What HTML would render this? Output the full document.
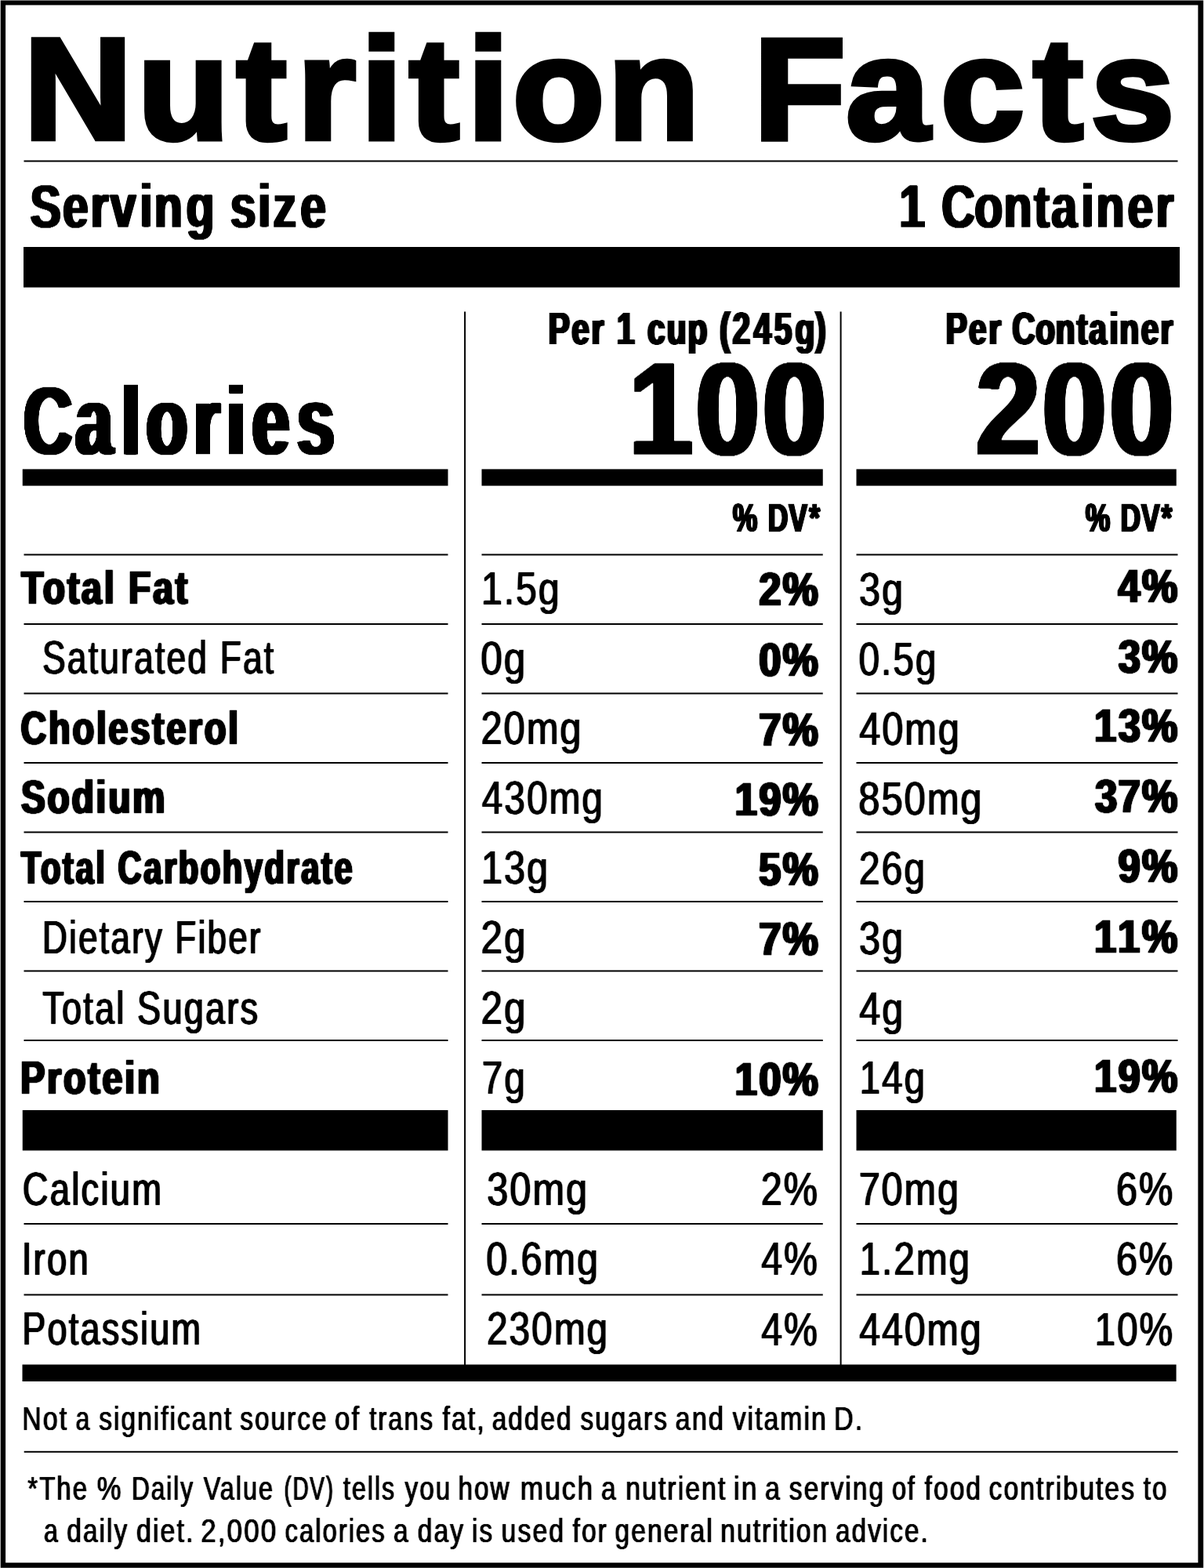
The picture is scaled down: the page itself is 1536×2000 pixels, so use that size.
<!DOCTYPE html>
<html lang="en"><head><meta charset="utf-8"><title>Nutrition Facts</title>
<style>html,body{margin:0;padding:0;background:#fff}svg{display:block}text{font-family:'Liberation Sans', Arial, Helvetica, sans-serif;fill:#000;white-space:pre}</style></head>
<body>
<svg xmlns="http://www.w3.org/2000/svg" width="1536" height="2000" viewBox="0 0 1536 2000">
<defs><filter id="h180e40" x="-30%" y="-15%" width="160%" height="130%"><feConvolveMatrix order="5 1" kernelMatrix="0.694 1 1 1 0.694" divisor="1" edgeMode="none" preserveAlpha="false"/><feConvolveMatrix order="1 3" kernelMatrix="0.296 1 0.296" divisor="1" bias="-0.592" edgeMode="none" preserveAlpha="false"/></filter><filter id="h155" x="-30%" y="-15%" width="160%" height="130%"><feConvolveMatrix order="5 1" kernelMatrix="0.428 1 1 1 0.428" divisor="1" edgeMode="none" preserveAlpha="false"/></filter><filter id="h355e90" x="-30%" y="-15%" width="160%" height="130%"><feConvolveMatrix order="9 1" kernelMatrix="0.428 1 1 1 1 1 1 1 0.428" divisor="1" edgeMode="none" preserveAlpha="false"/><feConvolveMatrix order="1 3" kernelMatrix="0.829 1 0.829" divisor="1" bias="-1.658" edgeMode="none" preserveAlpha="false"/></filter><filter id="h365e50" x="-30%" y="-15%" width="160%" height="130%"><feConvolveMatrix order="9 1" kernelMatrix="0.525 1 1 1 1 1 1 1 0.525" divisor="1" edgeMode="none" preserveAlpha="false"/><feConvolveMatrix order="1 3" kernelMatrix="0.382 1 0.382" divisor="1" bias="-0.764" edgeMode="none" preserveAlpha="false"/></filter><filter id="h355e50" x="-30%" y="-15%" width="160%" height="130%"><feConvolveMatrix order="9 1" kernelMatrix="0.428 1 1 1 1 1 1 1 0.428" divisor="1" edgeMode="none" preserveAlpha="false"/><feConvolveMatrix order="1 3" kernelMatrix="0.382 1 0.382" divisor="1" bias="-0.764" edgeMode="none" preserveAlpha="false"/></filter><filter id="h110v25" x="-30%" y="-15%" width="160%" height="130%"><feConvolveMatrix order="5 1" kernelMatrix="0.068 1 1 1 0.068" divisor="1" edgeMode="none" preserveAlpha="false"/><feConvolveMatrix order="1 3" kernelMatrix="0.177 1 0.177" divisor="1" edgeMode="none" preserveAlpha="false"/></filter><filter id="h135v30" x="-30%" y="-15%" width="160%" height="130%"><feConvolveMatrix order="5 1" kernelMatrix="0.255 1 1 1 0.255" divisor="1" edgeMode="none" preserveAlpha="false"/><feConvolveMatrix order="1 3" kernelMatrix="0.215 1 0.215" divisor="1" edgeMode="none" preserveAlpha="false"/></filter><filter id="h130v30" x="-30%" y="-15%" width="160%" height="130%"><feConvolveMatrix order="5 1" kernelMatrix="0.215 1 1 1 0.215" divisor="1" edgeMode="none" preserveAlpha="false"/><feConvolveMatrix order="1 3" kernelMatrix="0.215 1 0.215" divisor="1" edgeMode="none" preserveAlpha="false"/></filter><filter id="h120v30" x="-30%" y="-15%" width="160%" height="130%"><feConvolveMatrix order="5 1" kernelMatrix="0.14 1 1 1 0.14" divisor="1" edgeMode="none" preserveAlpha="false"/><feConvolveMatrix order="1 3" kernelMatrix="0.215 1 0.215" divisor="1" edgeMode="none" preserveAlpha="false"/></filter><filter id="h65v15" x="-30%" y="-15%" width="160%" height="130%"><feConvolveMatrix order="3 1" kernelMatrix="0.525 1 0.525" divisor="1" edgeMode="none" preserveAlpha="false"/><feConvolveMatrix order="1 3" kernelMatrix="0.104 1 0.104" divisor="1" edgeMode="none" preserveAlpha="false"/></filter><filter id="h70v15" x="-30%" y="-15%" width="160%" height="130%"><feConvolveMatrix order="3 1" kernelMatrix="0.578 1 0.578" divisor="1" edgeMode="none" preserveAlpha="false"/><feConvolveMatrix order="1 3" kernelMatrix="0.104 1 0.104" divisor="1" edgeMode="none" preserveAlpha="false"/></filter><filter id="h60v15" x="-30%" y="-15%" width="160%" height="130%"><feConvolveMatrix order="3 1" kernelMatrix="0.475 1 0.475" divisor="1" edgeMode="none" preserveAlpha="false"/><feConvolveMatrix order="1 3" kernelMatrix="0.104 1 0.104" divisor="1" edgeMode="none" preserveAlpha="false"/></filter><filter id="h130v40" x="-30%" y="-15%" width="160%" height="130%"><feConvolveMatrix order="5 1" kernelMatrix="0.215 1 1 1 0.215" divisor="1" edgeMode="none" preserveAlpha="false"/><feConvolveMatrix order="1 3" kernelMatrix="0.296 1 0.296" divisor="1" edgeMode="none" preserveAlpha="false"/></filter><filter id="h50v10" x="-30%" y="-15%" width="160%" height="130%"><feConvolveMatrix order="3 1" kernelMatrix="0.382 1 0.382" divisor="1" edgeMode="none" preserveAlpha="false"/><feConvolveMatrix order="1 3" kernelMatrix="0.068 1 0.068" divisor="1" edgeMode="none" preserveAlpha="false"/></filter></defs>
<path fill="#000" fill-rule="evenodd" d="M0.7 0.5H1535.2V1999.7H0.7Z M7.1 6.5V1993.3H1528.4V6.5Z"/>
<rect x="30.5" y="204.5" width="1472" height="2"/>
<rect x="30" y="315" width="1475" height="51.6"/>
<rect x="592.1" y="397.5" width="2" height="1343.5"/>
<rect x="1071.6" y="397.5" width="2" height="1343.5"/>
<rect x="28.75" y="598.4" width="542.75" height="21.2"/>
<rect x="614.5" y="598.4" width="435.25" height="21.2"/>
<rect x="1092.5" y="598.4" width="408.25" height="21.2"/>
<rect x="30.5" y="706.5" width="541" height="2"/>
<rect x="614.5" y="706.5" width="435.25" height="2"/>
<rect x="1092.5" y="706.5" width="410" height="2"/>
<rect x="30.5" y="795" width="541" height="2"/>
<rect x="614.5" y="795" width="435.25" height="2"/>
<rect x="1092.5" y="795" width="410" height="2"/>
<rect x="30.5" y="883.5" width="541" height="2"/>
<rect x="614.5" y="883.5" width="435.25" height="2"/>
<rect x="1092.5" y="883.5" width="410" height="2"/>
<rect x="30.5" y="972" width="541" height="2"/>
<rect x="614.5" y="972" width="435.25" height="2"/>
<rect x="1092.5" y="972" width="410" height="2"/>
<rect x="30.5" y="1060.5" width="541" height="2"/>
<rect x="614.5" y="1060.5" width="435.25" height="2"/>
<rect x="1092.5" y="1060.5" width="410" height="2"/>
<rect x="30.5" y="1149" width="541" height="2"/>
<rect x="614.5" y="1149" width="435.25" height="2"/>
<rect x="1092.5" y="1149" width="410" height="2"/>
<rect x="30.5" y="1237.5" width="541" height="2"/>
<rect x="614.5" y="1237.5" width="435.25" height="2"/>
<rect x="1092.5" y="1237.5" width="410" height="2"/>
<rect x="30.5" y="1326" width="541" height="2"/>
<rect x="614.5" y="1326" width="435.25" height="2"/>
<rect x="1092.5" y="1326" width="410" height="2"/>
<rect x="30.5" y="1560" width="541" height="2"/>
<rect x="614.5" y="1560" width="435.25" height="2"/>
<rect x="1092.5" y="1560" width="410" height="2"/>
<rect x="30.5" y="1650.5" width="541" height="2"/>
<rect x="614.5" y="1650.5" width="435.25" height="2"/>
<rect x="1092.5" y="1650.5" width="410" height="2"/>
<rect x="28.75" y="1416" width="542.75" height="51.5"/>
<rect x="614.5" y="1416" width="435.25" height="51.5"/>
<rect x="1092.5" y="1416" width="408.25" height="51.5"/>
<rect x="28.5" y="1740.5" width="1472.1" height="21.5"/>
<rect x="30.7" y="1850.8" width="1472" height="2"/>
<text transform="translate(0 176.82) scale(1.0418 1)" font-size="184.14" font-weight="bold" stroke="#000" stroke-width="6.35" stroke-linejoin="miter" x="28.95 168.4 289.68 364.15 441.83 501.09 572.25 627.67 744.11 833.5 922.89 1035.87 1151.84 1265.11 1335.78">Nutrition Facts</text>
<text transform="translate(0 289.6) scale(0.76 1)" font-size="77.66" font-weight="bold" filter="url(#h180e40)" x="50.78 105.42 151.96 185.35 234.51 258.99 312.36 349.41 386.47 433.06 458.46 504.23">Serving size</text>
<text transform="translate(0 289.6) scale(0.76 1)" font-size="77.66" font-weight="bold" filter="url(#h180e40)" x="1509.44 1544.96 1580.48 1635.82 1684.78 1735.76 1764.83 1814.9 1840.11 1892.72 1940.12">1 Container</text>
<text transform="translate(0 438.5) scale(0.7 1)" font-size="58.1" font-weight="bold" filter="url(#h155)" x="999.69 1041.64 1077.93 1101.08 1124.24 1152.07 1179.89 1215.5 1253.6 1282.55 1311.51 1335.06 1373.63 1411.12 1449.23 1486.01">Per 1 cup (245g)</text>
<text transform="translate(0 438.5) scale(0.7 1)" font-size="58.1" font-weight="bold" filter="url(#h155)" x="1723.8 1765.85 1801.75 1823.27 1844.79 1887.44 1924.06 1962.62 1984.58 2022.3 2040.45 2079.67 2115.18">Per Container</text>
<text transform="translate(0 579.9) scale(0.6918 1)" font-size="123.79" font-weight="bold" filter="url(#h355e90)" x="43.76 139.21 224.42 269.96 357.59 418.04 464.93 547.8">Calories</text>
<text transform="translate(0 580) scale(0.8565 1)" font-size="169.69" font-weight="bold" filter="url(#h365e50)" x="937.36 1036.42 1136.09">100</text>
<text transform="translate(0 580) scale(0.8653 1)" font-size="169.69" font-weight="bold" filter="url(#h355e50)" x="1439.24 1536.85 1635.81">200</text>
<text transform="translate(0 677.85) scale(0.7 1)" font-size="50.73" font-weight="bold" filter="url(#h110v25)" x="1335.51 1367.64 1399.78 1437.65 1474.5">% DV*</text>
<text transform="translate(0 677.85) scale(0.7 1)" font-size="50.73" font-weight="bold" filter="url(#h110v25)" x="1978.36 2010.18 2042 2079.94 2116.36">% DV*</text>
<text transform="translate(27.13 770.3) scale(0.7834 1)" font-size="59.1" font-weight="bold" letter-spacing="3.6" filter="url(#h135v30)">Total Fat</text>
<text transform="translate(26.43 948.95) scale(0.7682 1)" font-size="59.1" font-weight="bold" letter-spacing="3.6" filter="url(#h130v30)">Cholesterol</text>
<text transform="translate(26.88 1037.2) scale(0.782 1)" font-size="59.1" font-weight="bold" letter-spacing="3.6" filter="url(#h135v30)">Sodium</text>
<text transform="translate(27 1127.2) scale(0.7063 1)" font-size="59.1" font-weight="bold" letter-spacing="3.6" filter="url(#h120v30)">Total Carbohydrate</text>
<text transform="translate(26.24 1394.7) scale(0.7873 1)" font-size="59.1" font-weight="bold" letter-spacing="3.6" filter="url(#h135v30)">Protein</text>
<text transform="translate(54.04 858.85) scale(0.7465 1)" font-size="59.52" letter-spacing="2.9" filter="url(#h65v15)">Saturated Fat</text>
<text transform="translate(54.05 1216.1) scale(0.742 1)" font-size="59.52" letter-spacing="2.9" filter="url(#h65v15)">Dietary Fiber</text>
<text transform="translate(54.15 1306.1) scale(0.7578 1)" font-size="59.52" letter-spacing="2.9" filter="url(#h70v15)">Total Sugars</text>
<text transform="translate(28.85 1537.35) scale(0.7622 1)" font-size="59.52" letter-spacing="2.9" filter="url(#h70v15)">Calcium</text>
<text transform="translate(27.73 1626.1) scale(0.7641 1)" font-size="59.52" letter-spacing="2.9" filter="url(#h70v15)">Iron</text>
<text transform="translate(28.25 1715.35) scale(0.7567 1)" font-size="59.52" letter-spacing="2.9" filter="url(#h70v15)">Potassium</text>
<text transform="translate(613.95 770.85) scale(0.8047 1)" font-size="59.88" letter-spacing="2.4" filter="url(#h60v15)">1.5g</text>
<text transform="translate(613.18 860.35) scale(0.8292 1)" font-size="59.88" letter-spacing="2.4" filter="url(#h65v15)">0g</text>
<text transform="translate(613.43 949.1) scale(0.8161 1)" font-size="59.88" letter-spacing="2.4" filter="url(#h65v15)">20mg</text>
<text transform="translate(614.76 1037.85) scale(0.8 1)" font-size="59.88" letter-spacing="2.4" filter="url(#h60v15)">430mg</text>
<text transform="translate(613.91 1127.35) scale(0.814 1)" font-size="59.88" letter-spacing="2.4" filter="url(#h65v15)">13g</text>
<text transform="translate(613.41 1216.35) scale(0.8257 1)" font-size="59.88" letter-spacing="2.4" filter="url(#h65v15)">2g</text>
<text transform="translate(613.41 1306.35) scale(0.8257 1)" font-size="59.88" letter-spacing="2.4" filter="url(#h65v15)">2g</text>
<text transform="translate(614.66 1394.85) scale(0.8 1)" font-size="59.88" letter-spacing="2.4" filter="url(#h60v15)">7g</text>
<text transform="translate(621.34 1537.35) scale(0.8134 1)" font-size="59.88" letter-spacing="2.4" filter="url(#h65v15)">30mg</text>
<text transform="translate(620.21 1626.1) scale(0.8105 1)" font-size="59.88" letter-spacing="2.4" filter="url(#h65v15)">0.6mg</text>
<text transform="translate(620.97 1715.35) scale(0.8 1)" font-size="59.88" letter-spacing="2.4" filter="url(#h60v15)">230mg</text>
<text transform="translate(0 772.1) scale(0.85 1)" font-size="59.88" font-weight="bold" filter="url(#h130v40)" x="1139.15 1174.79">2%</text>
<text transform="translate(0 861.6) scale(0.85 1)" font-size="59.88" font-weight="bold" filter="url(#h130v40)" x="1139.05 1174.79">0%</text>
<text transform="translate(0 951.35) scale(0.85 1)" font-size="59.88" font-weight="bold" filter="url(#h130v40)" x="1139.03 1174.79">7%</text>
<text transform="translate(0 1039.9) scale(0.85 1)" font-size="59.88" font-weight="bold" filter="url(#h130v40)" x="1103.09 1139.06 1174.79">19%</text>
<text transform="translate(0 1129.1) scale(0.85 1)" font-size="59.88" font-weight="bold" filter="url(#h130v40)" x="1138.86 1174.79">5%</text>
<text transform="translate(0 1218.35) scale(0.85 1)" font-size="59.88" font-weight="bold" filter="url(#h130v40)" x="1139.03 1174.79">7%</text>
<text transform="translate(0 1396.6) scale(0.85 1)" font-size="59.88" font-weight="bold" filter="url(#h130v40)" x="1103.09 1139.05 1174.79">10%</text>
<text transform="translate(970.69 1537.35) scale(0.812 1)" font-size="59.88" letter-spacing="2.4" filter="url(#h65v15)">2%</text>
<text transform="translate(971.25 1625.85) scale(0.8056 1)" font-size="59.88" letter-spacing="2.4" filter="url(#h60v15)">4%</text>
<text transform="translate(971.25 1715.85) scale(0.8056 1)" font-size="59.88" letter-spacing="2.4" filter="url(#h60v15)">4%</text>
<text transform="translate(1096.1 771.85) scale(0.8115 1)" font-size="59.88" letter-spacing="2.4" filter="url(#h65v15)">3g</text>
<text transform="translate(1095.48 860.6) scale(0.8003 1)" font-size="59.88" letter-spacing="2.4" filter="url(#h60v15)">0.5g</text>
<text transform="translate(1096.25 949.85) scale(0.8124 1)" font-size="59.88" letter-spacing="2.4" filter="url(#h65v15)">40mg</text>
<text transform="translate(1095.23 1039.35) scale(0.8166 1)" font-size="59.88" letter-spacing="2.4" filter="url(#h65v15)">850mg</text>
<text transform="translate(1095.7 1127.85) scale(0.8062 1)" font-size="59.88" letter-spacing="2.4" filter="url(#h60v15)">26g</text>
<text transform="translate(1096.1 1216.85) scale(0.8115 1)" font-size="59.88" letter-spacing="2.4" filter="url(#h65v15)">3g</text>
<text transform="translate(1096.25 1306.85) scale(0.8091 1)" font-size="59.88" letter-spacing="2.4" filter="url(#h65v15)">4g</text>
<text transform="translate(1096.47 1395.35) scale(0.7986 1)" font-size="59.88" letter-spacing="2.4" filter="url(#h60v15)">14g</text>
<text transform="translate(1095.63 1537.35) scale(0.8116 1)" font-size="59.88" letter-spacing="2.4" filter="url(#h65v15)">70mg</text>
<text transform="translate(1096.47 1626.1) scale(0.7989 1)" font-size="59.88" letter-spacing="2.4" filter="url(#h60v15)">1.2mg</text>
<text transform="translate(1096.25 1715.85) scale(0.8059 1)" font-size="59.88" letter-spacing="2.4" filter="url(#h60v15)">440mg</text>
<text transform="translate(0 768.35) scale(0.85 1)" font-size="59.88" font-weight="bold" filter="url(#h130v40)" x="1678 1714.08">4%</text>
<text transform="translate(0 858.35) scale(0.85 1)" font-size="59.88" font-weight="bold" filter="url(#h130v40)" x="1678.63 1714.08">3%</text>
<text transform="translate(0 946.2) scale(0.85 1)" font-size="59.88" font-weight="bold" filter="url(#h130v40)" x="1642.39 1678.63 1714.08">13%</text>
<text transform="translate(0 1036.1) scale(0.85 1)" font-size="59.88" font-weight="bold" filter="url(#h130v40)" x="1643.45 1678.32 1714.08">37%</text>
<text transform="translate(0 1125.1) scale(0.85 1)" font-size="59.88" font-weight="bold" filter="url(#h130v40)" x="1678.35 1714.08">9%</text>
<text transform="translate(0 1214.6) scale(0.85 1)" font-size="59.88" font-weight="bold" filter="url(#h130v40)" x="1642.39 1677.56 1714.08">11%</text>
<text transform="translate(0 1393.35) scale(0.85 1)" font-size="59.88" font-weight="bold" filter="url(#h130v40)" x="1642.39 1678.35 1714.08">19%</text>
<text transform="translate(1423.88 1537.35) scale(0.8127 1)" font-size="59.88" letter-spacing="2.4" filter="url(#h65v15)">6%</text>
<text transform="translate(1423.88 1626.1) scale(0.8127 1)" font-size="59.88" letter-spacing="2.4" filter="url(#h65v15)">6%</text>
<text transform="translate(1396.46 1715.85) scale(0.8001 1)" font-size="59.88" letter-spacing="2.4" filter="url(#h60v15)">10%</text>
<text transform="translate(0 1823.9) scale(0.77 1)" font-size="43.22" letter-spacing="2.6" filter="url(#h50v10)"><tspan x="36.66" textLength="76.64" lengthAdjust="spacingAndGlyphs">Not</tspan> <tspan x="125.46" textLength="25.74" lengthAdjust="spacingAndGlyphs">a</tspan> <tspan x="164.1" textLength="222.21" lengthAdjust="spacingAndGlyphs">significant</tspan> <tspan x="397.87" textLength="145.57" lengthAdjust="spacingAndGlyphs">source</tspan> <tspan x="554.62" textLength="43.03" lengthAdjust="spacingAndGlyphs">of</tspan> <tspan x="612.04" textLength="107.49" lengthAdjust="spacingAndGlyphs">trans</tspan> <tspan x="733.17" textLength="71.58" lengthAdjust="spacingAndGlyphs">fat,</tspan> <tspan x="815.32" textLength="133.66" lengthAdjust="spacingAndGlyphs">added</tspan> <tspan x="961.83" textLength="145.75" lengthAdjust="spacingAndGlyphs">sugars</tspan> <tspan x="1118.84" textLength="82.55" lengthAdjust="spacingAndGlyphs">and</tspan> <tspan x="1213.96" textLength="157.05" lengthAdjust="spacingAndGlyphs">vitamin</tspan> <tspan x="1381.77" textLength="49.69" lengthAdjust="spacingAndGlyphs">D.</tspan></text>
<text transform="translate(0 1913.2) scale(0.77 1)" font-size="43.22" letter-spacing="2.6" filter="url(#h50v10)"><tspan x="45.92" textLength="100.83" lengthAdjust="spacingAndGlyphs">*The</tspan> <tspan x="160.7" textLength="42.67" lengthAdjust="spacingAndGlyphs">%</tspan> <tspan x="218.07" textLength="103.88" lengthAdjust="spacingAndGlyphs">Daily</tspan> <tspan x="337.29" textLength="117.08" lengthAdjust="spacingAndGlyphs">Value</tspan> <tspan x="470.78" textLength="83.34" lengthAdjust="spacingAndGlyphs">(DV)</tspan> <tspan x="568.87" textLength="87.05" lengthAdjust="spacingAndGlyphs">tells</tspan> <tspan x="670.8" textLength="77.66" lengthAdjust="spacingAndGlyphs">you</tspan> <tspan x="759.04" textLength="87.13" lengthAdjust="spacingAndGlyphs">how</tspan> <tspan x="861.88" textLength="123.02" lengthAdjust="spacingAndGlyphs">much</tspan> <tspan x="996.16" textLength="26.91" lengthAdjust="spacingAndGlyphs">a</tspan> <tspan x="1036.68" textLength="167.69" lengthAdjust="spacingAndGlyphs">nutrient</tspan> <tspan x="1215.11" textLength="41.59" lengthAdjust="spacingAndGlyphs">in</tspan> <tspan x="1267.56" textLength="27.3" lengthAdjust="spacingAndGlyphs">a</tspan> <tspan x="1307.6" textLength="158.77" lengthAdjust="spacingAndGlyphs">serving</tspan> <tspan x="1477.8" textLength="40.14" lengthAdjust="spacingAndGlyphs">of</tspan> <tspan x="1531.87" textLength="95.55" lengthAdjust="spacingAndGlyphs">food</tspan> <tspan x="1638.4" textLength="243.52" lengthAdjust="spacingAndGlyphs">contributes</tspan> <tspan x="1894.5" textLength="41.22" lengthAdjust="spacingAndGlyphs">to</tspan></text>
<text transform="translate(0 1967.2) scale(0.77 1)" font-size="43.22" letter-spacing="2.6" filter="url(#h50v10)"><tspan x="72.86" textLength="25.74" lengthAdjust="spacingAndGlyphs">a</tspan> <tspan x="110.85" textLength="102.31" lengthAdjust="spacingAndGlyphs">daily</tspan> <tspan x="226.08" textLength="96.58" lengthAdjust="spacingAndGlyphs">diet.</tspan> <tspan x="332.79" textLength="127.28" lengthAdjust="spacingAndGlyphs">2,000</tspan> <tspan x="472.21" textLength="167.66" lengthAdjust="spacingAndGlyphs">calories</tspan> <tspan x="652" textLength="26.91" lengthAdjust="spacingAndGlyphs">a</tspan> <tspan x="692.01" textLength="78.1" lengthAdjust="spacingAndGlyphs">day</tspan> <tspan x="781.86" textLength="36.58" lengthAdjust="spacingAndGlyphs">is</tspan> <tspan x="830.6" textLength="106.07" lengthAdjust="spacingAndGlyphs">used</tspan> <tspan x="948.75" textLength="58.82" lengthAdjust="spacingAndGlyphs">for</tspan> <tspan x="1018.97" textLength="163.76" lengthAdjust="spacingAndGlyphs">general</tspan> <tspan x="1193.83" textLength="179.17" lengthAdjust="spacingAndGlyphs">nutrition</tspan> <tspan x="1384.48" textLength="155.54" lengthAdjust="spacingAndGlyphs">advice.</tspan></text>
</svg>
</body></html>
